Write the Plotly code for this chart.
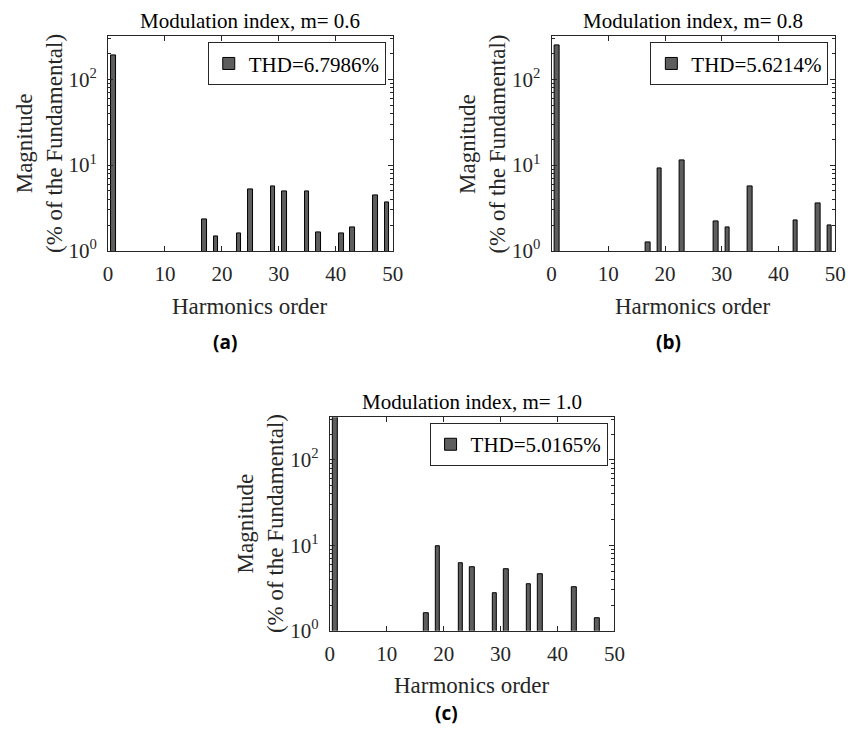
import plotly.graph_objects as go

# Harmonic spectra (% of the fundamental) for three modulation indices
harm_a = [1, 17, 19, 23, 25, 29, 31, 35, 37, 41, 43, 47, 49]
mag_a = [190, 2.31, 1.46, 1.58, 5.25, 5.63, 4.98, 4.98, 1.65, 1.60, 1.90, 4.44, 3.72]

harm_b = [1, 17, 19, 23, 29, 31, 35, 43, 47, 49]
mag_b = [248, 1.24, 9.08, 11.4, 2.21, 1.89, 5.69, 2.27, 3.59, 1.97]

harm_c = [1, 17, 19, 23, 25, 29, 31, 35, 37, 43, 47]
mag_c = [330, 1.61, 9.73, 6.2, 5.52, 2.74, 5.19, 3.49, 4.58, 3.19, 1.39]

titles = ["Modulation index, m= 0.6", "Modulation index, m= 0.8", "Modulation index, m= 1.0"]
thd_labels = ["THD=6.7986%", "THD=5.6214%", "THD=5.0165%"]
captions = ["(a)", "(b)", "(c)"]

x_ticks = [0, 10, 20, 30, 40, 50]
y_ticks = [1, 10, 100]
y_ticktext = ["10<sup>0</sup>", "10<sup>1</sup>", "10<sup>2</sup>"]
# minor log ticks: 2..9 within each decade, up to the top of the axis
y_minor = [k * 10 ** d for d in range(3) for k in range(2, 10) if k * 10 ** d < 316]

W, H = 858, 749
SERIF = "'Liberation Serif', 'Times New Roman', serif"
AXCOL = "#262626"

# panel geometry in pixels: (left, right, top, bottom)
panels = [(105, 395, 37, 255), (557, 846, 37, 255), (331, 621, 424, 641)]
caption_pos = [(224, 348), (676, 348), (450, 725)]

fig = go.Figure()
series = [(harm_a, mag_a), (harm_b, mag_b), (harm_c, mag_c)]
legend_keys = ["legend", "legend2", "legend3"]

for i, ((hx, hy), (l, r, t, b)) in enumerate(zip(series, panels)):
    n = "" if i == 0 else str(i + 1)
    fig.add_trace(go.Bar(
        x=hx, y=hy, width=0.8, name=thd_labels[i],
        marker=dict(color="#5e5e5e", line=dict(color="black", width=1)),
        xaxis="x" + n, yaxis="y" + n, legend=legend_keys[i], showlegend=True,
    ))
    xd = [l / W, r / W]
    yd = [1 - b / H, 1 - t / H]
    fig.layout["xaxis" + n] = dict(
        domain=xd, anchor="y" + n, range=[0, 50], tickvals=x_ticks,
        ticks="inside", ticklen=5, tickcolor=AXCOL, showline=True, linecolor=AXCOL,
        linewidth=1, mirror="ticks", showgrid=False, zeroline=False,
        ticklabelstandoff=4,
        tickfont=dict(family=SERIF, size=21, color=AXCOL),
    )
    fig.layout["yaxis" + n] = dict(
        domain=yd, anchor="x" + n, type="log", range=[0, 2.5], tickvals=y_ticks,
        ticktext=y_ticktext, ticks="inside", ticklen=5, tickcolor=AXCOL,
        showline=True, linecolor=AXCOL, linewidth=1, mirror="ticks",
        showgrid=False, zeroline=False, ticklabelstandoff=6,
        minor=dict(tickvals=y_minor, ticks="inside", ticklen=3, tickcolor=AXCOL,
                   showgrid=False),
        tickfont=dict(family=SERIF, size=21, color=AXCOL),
    )
    fig.layout[legend_keys[i]] = dict(
        x=(r - 7) / W, y=1 - (t + 6) / H, xanchor="right", yanchor="top",
        bgcolor="white", bordercolor=AXCOL, borderwidth=1,
        font=dict(family=SERIF, size=21, color="black"),
        itemwidth=30, tracegroupgap=0,
    )
    cx = (l + r) / 2 / W
    fig.add_annotation(text=titles[i], xref="paper", yref="paper", x=cx, y=1 - (t - 1) / H,
                       xanchor="center", yanchor="bottom", showarrow=False,
                       font=dict(family=SERIF, size=21, color="black"))
    fig.add_annotation(text="Harmonics order", xref="paper", yref="paper", x=cx,
                       y=1 - (b + 56) / H, xanchor="center", yanchor="middle", showarrow=False,
                       font=dict(family=SERIF, size=23, color=AXCOL))
    fig.add_annotation(text="Magnitude<br>(% of the Fundamental)", xref="paper", yref="paper",
                       x=(l - 70) / W, y=1 - (t + b) / 2 / H, xanchor="center", yanchor="middle",
                       textangle=-90, showarrow=False,
                       font=dict(family=SERIF, size=23, color=AXCOL))
    cxp, cyp = caption_pos[i]
    fig.add_annotation(text="<b>" + captions[i] + "</b>", xref="paper", yref="paper",
                       x=cxp / W, y=1 - cyp / H, xanchor="center", yanchor="middle",
                       showarrow=False, font=dict(family="Open Sans", size=19, color="black"))

fig.update_layout(
    width=W, height=H, margin=dict(l=0, r=0, t=0, b=0),
    paper_bgcolor="white", plot_bgcolor="white", bargap=0,
    font=dict(family=SERIF, color=AXCOL),
)

fig.write_html("out.html")
